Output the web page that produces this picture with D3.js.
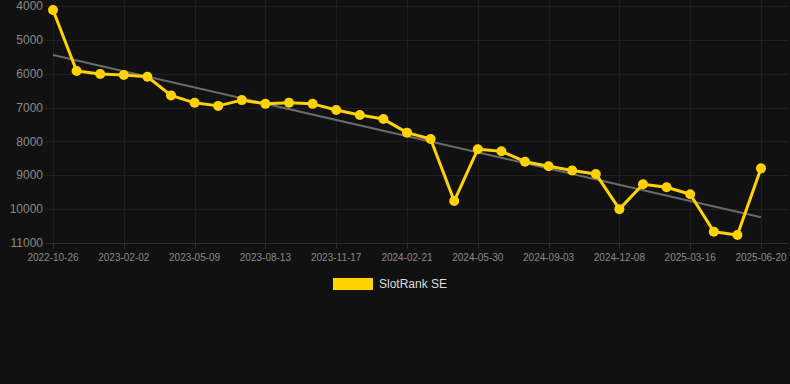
<!DOCTYPE html>
<html><head><meta charset="utf-8">
<script src="https://cdn.jsdelivr.net/npm/d3@7"></script>
<style>html,body{margin:0;padding:0;background:#111111;}svg{display:block;}</style>
</head><body>
<script>
const dates = ["2022-10-26","2022-11-28","2022-12-31","2023-02-02","2023-03-06","2023-04-07","2023-05-09","2023-06-10","2023-07-12","2023-08-13","2023-09-14","2023-10-16","2023-11-17","2023-12-19","2024-01-20","2024-02-21","2024-03-25","2024-04-27","2024-05-30","2024-07-01","2024-08-02","2024-09-03","2024-10-05","2024-11-06","2024-12-08","2025-01-09","2025-02-11","2025-03-16","2025-04-17","2025-05-19","2025-06-20"];
const ranks = [4120,5920,6010,6040,6090,6640,6860,6950,6780,6890,6860,6890,7070,7220,7340,7740,7930,9760,8230,8290,8600,8735,8860,8960,10000,9265,9355,9560,10665,10765,8795];
const yTicks = [4000,5000,6000,7000,8000,9000,10000,11000];
const seriesName = "SlotRank SE";

(function () {
const W = 790, H = 384;
const svg = d3.select("body").append("svg").attr("width", W).attr("height", H);
svg.append("rect").attr("width", W).attr("height", H).attr("fill", "#111111");

const pLeft = 53, pRight = 761, pTop = 6, pBottom = 243;
const x = d3.scalePoint().domain(dates).range([pLeft, pRight]);
const y = d3.scaleLinear().domain([4000, 11000]).range([pTop, pBottom]);

const labelDates = dates.filter((d, i) => i % 3 === 0);

const g = svg.append("g");
g.selectAll(".hg").data(yTicks).join("line")
  .attr("x1", 45).attr("x2", 788)
  .attr("y1", d => Math.round(y(d)) + 0.5).attr("y2", d => Math.round(y(d)) + 0.5)
  .attr("stroke", d => d === 11000 ? "#2c2c2c" : "#1f1f1f").attr("stroke-width", 1);
g.selectAll(".vg").data(labelDates).join("line")
  .attr("x1", d => Math.round(x(d)) + 0.5).attr("x2", d => Math.round(x(d)) + 0.5)
  .attr("y1", 0).attr("y2", pBottom)
  .attr("stroke", "#1f1f1f").attr("stroke-width", 1);
g.selectAll(".tk").data(labelDates).join("line")
  .attr("x1", d => Math.round(x(d)) + 0.5).attr("x2", d => Math.round(x(d)) + 0.5)
  .attr("y1", pBottom).attr("y2", pBottom + 6)
  .attr("stroke", "#2c2c2c");

svg.append("g").selectAll("text").data(yTicks).join("text")
  .attr("x", 43).attr("y", d => y(d)).attr("dy", "0.35em")
  .attr("text-anchor", "end").attr("fill", "#8a8a8a")
  .attr("font-family", "Liberation Sans, Arial, sans-serif").attr("font-size", 12)
  .text(d => d);
svg.append("g").selectAll("text").data(labelDates).join("text")
  .attr("x", d => x(d)).attr("y", pBottom + 18)
  .attr("text-anchor", "middle").attr("fill", "#8a8a8a")
  .attr("font-family", "Liberation Sans, Arial, sans-serif").attr("font-size", 10)
  .text(d => d);

const n = ranks.length;
const idx = d3.range(n);
const mx = d3.mean(idx), my = d3.mean(ranks);
const slope = d3.sum(idx, i => (i - mx) * (ranks[i] - my)) / d3.sum(idx, i => (i - mx) ** 2);
const icpt = my - slope * mx;
svg.append("line")
  .attr("x1", x(dates[0])).attr("y1", y(icpt))
  .attr("x2", x(dates[n - 1])).attr("y2", y(icpt + slope * (n - 1)))
  .attr("stroke", "#6b6b6b").attr("stroke-width", 2);

const line = d3.line().x((d, i) => x(dates[i])).y(d => y(d));
svg.append("path").datum(ranks).attr("d", line)
  .attr("fill", "none").attr("stroke", "#FFD200").attr("stroke-width", 3).attr("stroke-linejoin", "round");
svg.append("g").selectAll("circle").data(ranks).join("circle")
  .attr("cx", (d, i) => x(dates[i])).attr("cy", d => y(d)).attr("r", 5)
  .attr("fill", "#FFD200");

svg.append("rect").attr("x", 333).attr("y", 278).attr("width", 40).attr("height", 12).attr("fill", "#FFD200");
svg.append("text").attr("x", 379).attr("y", 284).attr("dy", "0.35em")
  .attr("fill", "#dddddd").attr("font-family", "Liberation Sans, Arial, sans-serif").attr("font-size", 12)
  .text(seriesName);
})();
</script>
</body></html>
